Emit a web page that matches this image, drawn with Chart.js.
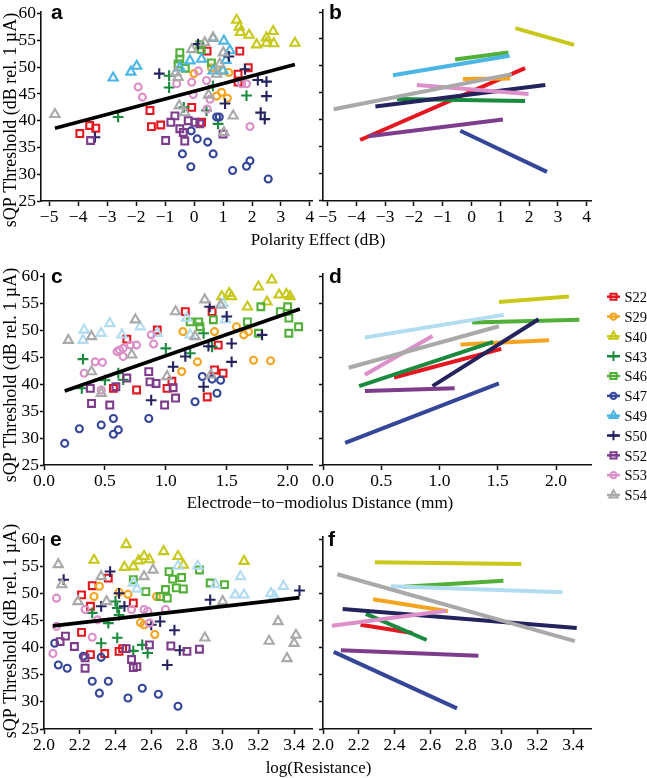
<!DOCTYPE html>
<html>
<head>
<meta charset="utf-8">
<script src="https://cdn.jsdelivr.net/npm/chart.js@4.4.1/dist/chart.umd.min.js"></script>
<style>
html, body { margin: 0; padding: 0; background: #fff; }
#wrap { position: relative; width: 647px; height: 778px; overflow: hidden; }
canvas { position: absolute; left: 0; top: 0; }
</style>
</head>
<body>
<div id="wrap">
  <canvas id="pa" width="647" height="778"></canvas>
  <canvas id="pb" width="647" height="778"></canvas>
  <canvas id="pc" width="647" height="778"></canvas>
  <canvas id="pd" width="647" height="778"></canvas>
  <canvas id="pe" width="647" height="778"></canvas>
  <canvas id="pf" width="647" height="778"></canvas>
</div>
<script>
// ---- data ----
const seriesNames = ['S22', 'S29', 'S40', 'S43', 'S46', 'S47', 'S49', 'S50', 'S52', 'S53', 'S54'];

const thresholdTicks = [25, 30, 35, 40, 45, 50, 55, 60];
const polarityTicks = [-5, -4, -3, -2, -1, 0, 1, 2, 3, 4];
const distanceTicks = [0, 0.5, 1.0, 1.5, 2.0];
const resistanceTicks = [2.0, 2.2, 2.4, 2.6, 2.8, 3.0, 3.2, 3.4];

// panel a: polarity effect vs threshold, one list of [x, y] per subject
const polarityPts = [
  [[-3.94, 37.6], [-3.6, 39.1], [-3.39, 38.6], [-1.52, 41.9], [-1.47, 38.9], [-1.15, 39.2], [-0.08, 42.5], [0.26, 39.7], [0.45, 53.0], [1.58, 53.0], [1.52, 48.7], [1.52, 47.2], [1.87, 49.9]],
  [[0.6, 49.9], [0.98, 49.4], [1.2, 49.0], [0.78, 44.6], [0.95, 45.3], [1.15, 44.2], [0.0, 48.8]],
  [[1.47, 58.8], [1.56, 57.5], [1.6, 56.5], [1.9, 56.0], [2.16, 54.2], [2.5, 55.5], [2.73, 56.7], [2.5, 54.5], [2.75, 54.4], [3.48, 54.5]],
  [[-2.62, 40.7], [-0.86, 48.4], [-0.86, 46.2], [-0.35, 42.5], [0.43, 41.9], [0.83, 39.4], [1.81, 44.7], [0.65, 46.5]],
  [[-0.49, 52.7], [-0.49, 51.5], [-0.55, 50.6], [0.2, 54.2], [0.25, 53.3], [0.6, 50.8], [-0.3, 49.8]],
  [[0.78, 40.7], [0.87, 40.7], [-0.1, 38.1], [0.11, 36.6], [0.47, 36.0], [-0.4, 33.8], [0.66, 33.8], [-0.11, 31.4], [1.33, 30.7], [1.81, 31.5], [1.93, 32.5], [2.56, 29.1]],
  [[-2.79, 48.0], [-2.18, 49.1], [-1.98, 50.2], [-0.49, 49.9], [-0.14, 51.2], [0.26, 51.5], [0.66, 55.4], [1.03, 54.9], [1.24, 53.1], [1.0, 49.3], [0.66, 49.3], [1.1, 51.3]],
  [[-3.42, 36.9], [-1.2, 48.8], [0.14, 54.3], [1.07, 43.2], [1.76, 49.6], [2.2, 47.6], [2.5, 47.3], [2.5, 44.6], [2.3, 41.5], [2.44, 40.3], [1.2, 52.0]],
  [[-3.57, 36.3], [-0.98, 36.3], [-0.66, 40.9], [-0.49, 38.5], [-0.32, 36.2], [-0.37, 37.8], [-0.2, 40.0], [0.03, 39.7], [0.2, 39.4], [1.0, 37.5], [-0.8, 39.7]],
  [[-1.93, 46.3], [-1.78, 44.4], [-0.6, 46.9], [-0.08, 47.2], [0.15, 49.3], [0.43, 47.5], [-0.03, 44.9], [0.55, 44.0], [0.45, 42.2], [1.64, 46.9], [1.81, 46.9], [1.93, 38.9]],
  [[-4.8, 41.2], [-0.51, 42.8], [-0.32, 41.5], [-0.55, 48.1], [-0.63, 49.0], [-0.08, 53.3], [0.37, 54.6], [0.66, 55.5], [1.01, 52.7], [0.89, 50.6], [0.78, 48.7], [0.5, 44.8], [1.35, 40.9], [1.03, 37.8]]
];
const polarityFit = [[-4.8, 38.6], [3.48, 50.5]];
// panel b: per-subject regression lines, [start, end]
const polarityLines = [
  [[-3.87, 36.3], [1.86, 49.6]],
  [[-0.3, 47.6], [1.34, 47.7]],
  [[1.52, 57.0], [3.56, 53.9]],
  [[-2.59, 43.9], [1.86, 43.5]],
  [[-0.57, 51.2], [1.28, 52.5]],
  [[-0.39, 38.0], [2.62, 30.4]],
  [[-2.73, 48.3], [1.32, 51.9]],
  [[-3.34, 42.5], [2.56, 46.5]],
  [[-3.58, 37.0], [1.09, 40.1]],
  [[-1.9, 46.5], [1.98, 44.8]],
  [[-4.79, 42.0], [1.4, 48.5]]
];

// panel c: electrode-to-modiolus distance vs threshold
const distancePts = [
  [[0.68, 48.3], [0.93, 50.0], [0.57, 39.2], [0.76, 38.9], [1.01, 39.2], [1.16, 53.4], [1.38, 53.4], [1.43, 47.2], [1.4, 42.6], [1.47, 42.0], [1.34, 37.6], [1.05, 40.5]],
  [[1.14, 49.7], [1.4, 49.7], [1.58, 50.6], [1.64, 49.1], [1.68, 49.7], [1.13, 42.3], [1.26, 44.1], [1.72, 44.4], [1.86, 44.3]],
  [[1.46, 56.2], [1.52, 56.8], [1.54, 56.2], [1.67, 54.3], [1.76, 58.0], [1.87, 59.3], [1.83, 55.2], [1.93, 56.5], [1.99, 56.6], [2.02, 56.2]],
  [[0.32, 44.6], [0.31, 39.2], [0.5, 40.7], [0.61, 42.0], [1.0, 46.6], [1.31, 49.4], [1.38, 46.9], [1.2, 45.7], [0.65, 40.8]],
  [[1.2, 51.5], [1.27, 51.5], [1.28, 50.6], [1.39, 51.9], [1.67, 51.5], [1.78, 54.3], [1.76, 49.4], [1.94, 53.4], [2.0, 54.3], [2.01, 52.2], [2.01, 49.4], [2.09, 50.6]],
  [[0.17, 29.0], [0.29, 31.7], [0.47, 32.4], [0.57, 33.6], [0.57, 30.7], [0.61, 31.5], [0.86, 33.6], [1.3, 41.4], [1.45, 40.7], [1.42, 38.3], [1.24, 36.7], [1.38, 40.9]],
  [[0.33, 50.0], [0.32, 48.1], [0.47, 49.4], [0.54, 51.2], [0.64, 49.1], [0.79, 50.6], [0.93, 49.4], [1.17, 52.2], [1.47, 54.9], [1.49, 51.9], [1.2, 49.1]],
  [[0.88, 37.0], [1.06, 43.2], [1.16, 45.1], [1.31, 39.5], [1.36, 54.3], [1.5, 52.5], [1.54, 47.5], [1.54, 44.1], [1.79, 49.1], [1.35, 47.0]],
  [[0.38, 39.2], [0.39, 36.4], [0.54, 36.1], [0.59, 39.5], [0.68, 41.1], [0.86, 42.3], [0.87, 40.4], [0.92, 40.1], [0.99, 36.1], [1.08, 37.4], [1.06, 39.3]],
  [[0.62, 46.3], [0.6, 46.0], [0.65, 46.6], [0.71, 47.2], [0.76, 47.2], [0.88, 49.1], [0.9, 47.4], [0.42, 44.1], [0.48, 44.0], [0.33, 42.0], [0.47, 38.9], [0.65, 45.1]],
  [[0.2, 48.1], [0.39, 48.8], [0.75, 51.9], [1.08, 53.4], [0.72, 45.4], [0.39, 42.3], [0.47, 38.3], [1.01, 41.4], [1.32, 55.6], [1.45, 54.6], [1.24, 48.8], [1.37, 41.7]]
];
const distanceFit = [[0.17, 38.7], [2.1, 53.9]];
const distanceLines = [
  [[0.61, 41.2], [1.53, 46.5]],
  [[1.18, 47.3], [1.94, 48.1]],
  [[1.51, 55.2], [2.11, 56.2]],
  [[0.31, 39.6], [1.46, 47.8]],
  [[1.28, 51.4], [2.2, 51.9]],
  [[0.19, 29.1], [1.51, 40.1]],
  [[0.36, 48.6], [1.55, 52.8]],
  [[0.94, 39.6], [1.85, 52.0]],
  [[0.36, 38.7], [1.13, 39.2]],
  [[0.36, 41.7], [0.94, 48.9]],
  [[0.22, 43.0], [1.51, 50.7]]
];

// panel e: log(resistance) vs threshold
const resistancePts = [
  [[2.21, 49.7], [2.27, 51.4], [2.36, 52.8], [2.26, 47.6], [2.5, 48.2], [2.21, 42.8], [2.26, 38.7], [2.34, 38.9], [2.42, 39.3], [2.44, 39.8]],
  [[2.28, 49.4], [2.31, 51.3], [2.54, 44.6], [2.56, 44.2], [2.62, 42.4], [2.63, 49.4], [2.47, 49.8], [2.42, 50.2]],
  [[2.46, 59.0], [2.28, 56.1], [2.45, 54.8], [2.5, 54.9], [2.53, 56.0], [2.56, 56.8], [2.59, 56.2], [2.67, 57.7], [2.75, 56.8], [2.78, 55.2], [3.12, 55.9]],
  [[2.27, 46.4], [2.36, 44.5], [2.4, 48.5], [2.41, 47.3], [2.42, 46.0], [2.32, 40.8], [2.41, 41.8], [2.55, 40.5], [2.58, 39.0], [2.5, 39.4]],
  [[2.5, 52.5], [2.7, 54.0], [2.72, 52.6], [2.77, 52.9], [2.78, 50.8], [2.74, 51.0], [2.68, 50.7], [2.65, 49.4], [2.69, 49.1], [2.57, 50.3], [2.93, 51.9], [3.01, 51.6], [2.87, 54.3]],
  [[2.06, 40.8], [2.08, 36.8], [2.13, 36.2], [2.22, 38.4], [2.32, 38.2], [2.27, 33.8], [2.36, 33.8], [2.31, 31.6], [2.47, 30.7], [2.55, 32.5], [2.64, 31.4], [2.75, 29.2]],
  [[2.5, 51.9], [2.52, 50.8], [2.75, 55.0], [2.86, 55.0], [2.96, 51.6], [3.1, 53.1], [3.07, 49.7], [3.12, 49.7], [3.27, 50.0], [3.34, 51.3], [3.29, 49.5]],
  [[2.11, 52.5], [2.37, 54.0], [2.42, 50.0], [2.45, 47.6], [2.32, 47.6], [2.6, 44.2], [2.65, 44.8], [2.73, 43.2], [2.76, 39.5], [2.69, 36.8], [2.93, 48.8], [3.43, 50.5]],
  [[2.09, 41.1], [2.12, 42.1], [2.17, 40.2], [2.23, 38.1], [2.23, 36.2], [2.49, 37.8], [2.52, 36.5], [2.5, 36.3], [2.59, 40.5], [2.71, 40.3], [2.8, 39.3], [2.87, 39.7], [2.46, 39.8]],
  [[2.07, 49.1], [2.23, 47.0], [2.3, 45.1], [2.05, 38.9], [2.07, 43.9], [2.27, 41.9], [2.56, 47.0], [2.58, 46.7], [2.59, 44.5], [2.68, 47.0], [2.49, 47.0]],
  [[2.08, 55.3], [2.1, 51.6], [2.19, 48.5], [2.32, 53.1], [2.35, 48.5], [2.56, 53.1], [2.61, 54.3], [2.9, 41.8], [3.0, 48.5], [3.26, 41.2], [3.31, 44.8], [3.36, 38.0], [3.41, 42.3], [3.4, 40.8]]
];
const resistanceFit = [[2.05, 44.0], [3.43, 49.2]];
const resistanceLines = [
  [[2.21, 44.2], [2.5, 42.7]],
  [[2.28, 48.9], [2.7, 46.7]],
  [[2.29, 55.7], [3.11, 55.4]],
  [[2.24, 46.2], [2.58, 41.4]],
  [[2.45, 51.2], [3.01, 52.3]],
  [[2.06, 39.2], [2.75, 28.8]],
  [[2.38, 51.3], [3.34, 50.2]],
  [[2.11, 47.1], [3.42, 43.6]],
  [[2.1, 39.5], [2.87, 38.5]],
  [[2.05, 44.0], [2.69, 46.8]],
  [[2.08, 53.5], [3.41, 41.2]]
];

// ---- styling ----
const shapes = ['rect', 'circle', 'triangle', 'cross', 'rect', 'circle', 'triangle', 'cross', 'rect', 'circle', 'triangle'];
const colors = ['#e4161f', '#f4a41f', '#c8c81a', '#1a8a3e', '#52b038', '#354699', '#4bb5e6', '#24235e', '#7e3d8c', '#dc8fc8', '#a9a9a9'];
const paleBlue = '#b2dcf2';
const radius = { rect: 4.8, circle: 3.5, triangle: 5.3, cross: 5.4 };
const serif = '"Liberation Serif", "DejaVu Serif", serif';
const W = 647, H = 778;

function colorFor(i, row) {
  return (i === 6 && row > 0) ? paleBlue : colors[i];
}

function drawMarker(ctx, shape, x, y, r) {
  ctx.beginPath();
  if (shape === 'rect') {
    const s = r * Math.SQRT1_2;
    ctx.rect(x - s, y - s, 2 * s, 2 * s);
  } else if (shape === 'circle') {
    ctx.arc(x, y, r, 0, Math.PI * 2);
  } else if (shape === 'triangle') {
    ctx.moveTo(x, y - r);
    ctx.lineTo(x + r * 0.866, y + r * 0.5);
    ctx.lineTo(x - r * 0.866, y + r * 0.5);
    ctx.closePath();
  } else {
    ctx.moveTo(x, y - r); ctx.lineTo(x, y + r);
    ctx.moveTo(x - r, y); ctx.lineTo(x + r, y);
  }
  ctx.stroke();
}

function drawLegend(ctx) {
  const y0 = 296.7, step = 19.83;
  seriesNames.forEach((name, i) => {
    const y = y0 + i * step;
    ctx.strokeStyle = colors[i];
    ctx.lineWidth = 2.5;
    ctx.beginPath(); ctx.moveTo(607, y); ctx.lineTo(620, y); ctx.stroke();
    ctx.lineWidth = 2;
    drawMarker(ctx, shapes[i], 613.5, y, radius[shapes[i]] * 0.9);
    ctx.fillStyle = '#000';
    ctx.font = '14.5px ' + serif;
    ctx.textAlign = 'left';
    ctx.textBaseline = 'middle';
    ctx.fillText(name, 624.5, y + 1.5);
  });
}

const fmtPolarity = v => v < 0 ? '\u2212' + Math.abs(v) : String(v);
const fmtOne = v => Number(v).toFixed(1);

function toXY(pairs) { return pairs.map(p => ({ x: p[0], y: p[1] })); }

function makePanel(id, p) {
  const yw = p.yLabels ? 34 : 10, xh = 30;
  const yMax = 60.4;
  const top = p.y60 - 0.4 * (p.y25 - p.y60) / 35;
  const datasets = [];
  if (p.points) {
    p.points.forEach((pts, i) => {
      const c = colorFor(i, p.row);
      datasets.push({
        label: seriesNames[i], data: toXY(pts), order: 100 - i, showLine: false,
        pointStyle: shapes[i], pointRadius: radius[shapes[i]],
        pointBorderColor: c, pointBackgroundColor: 'rgba(0,0,0,0)', pointBorderWidth: 2.1
      });
    });
    datasets.push({
      label: 'fit', data: toXY(p.fit), order: 0, showLine: true,
      borderColor: '#000', borderWidth: 3.6, pointRadius: 0
    });
  }
  if (p.lines) {
    p.lines.forEach((seg, i) => {
      datasets.push({
        label: seriesNames[i], data: toXY(seg), order: 100 - i, showLine: true,
        borderColor: colorFor(i, p.row), borderWidth: 4, pointRadius: 0
      });
    });
  }
  const deco = {
    id: 'deco',
    afterDraw(chart) {
      const ctx = chart.ctx;
      ctx.save();
      ctx.fillStyle = '#000';
      ctx.font = 'bold 21px "Liberation Sans", Arial, sans-serif';
      ctx.textAlign = 'left';
      ctx.textBaseline = 'alphabetic';
      ctx.fillText(p.letter, p.letterX, p.y60 + 6.5);
      if (p.xTitle) {
        ctx.font = '17px ' + serif;
        ctx.textAlign = 'center';
        ctx.fillText(p.xTitle, p.xTitleX, p.xTitleY);
        ctx.save();
        ctx.translate(16, p.yTitleY);
        ctx.rotate(-Math.PI / 2);
        ctx.font = '18px ' + serif;
        ctx.fillText('sQP Threshold (dB rel. 1 \u00b5A)', 0, 0);
        ctx.restore();
      }
      if (p.legend) drawLegend(ctx);
      ctx.restore();
    }
  };
  const axisColor = '#111';
  new Chart(document.getElementById(id), {
    type: 'scatter',
    data: { datasets },
    options: {
      responsive: false,
      animation: false,
      devicePixelRatio: 1,
      events: [],
      clip: false,
      layout: { padding: { left: p.left - yw, top: top, right: W - p.right, bottom: H - p.y25 - xh } },
      plugins: { legend: { display: false }, tooltip: { enabled: false } },
      scales: {
        x: {
          type: 'linear', min: p.xMin, max: p.xMax,
          afterFit: s => { s.height = xh; },
          afterBuildTicks: s => { s.ticks = p.xTicks.map(v => ({ value: v })); },
          ticks: { callback: p.fmt, font: { family: serif, size: 17.5 }, color: '#000', padding: 1, maxRotation: 0, autoSkip: false },
          grid: { display: true, drawOnChartArea: false, drawTicks: true, tickLength: 5, tickWidth: 1.5, color: axisColor },
          border: { display: true, color: axisColor, width: 1.6 }
        },
        y: {
          type: 'linear', min: 25, max: yMax,
          afterFit: s => { s.width = yw; },
          afterBuildTicks: s => { s.ticks = thresholdTicks.map(v => ({ value: v })); },
          ticks: { display: p.yLabels, font: { family: serif, size: 17.5 }, color: '#000', padding: 1, autoSkip: false },
          grid: { display: true, drawOnChartArea: false, drawTicks: true, tickLength: 4, tickWidth: 1.5, color: axisColor },
          border: { display: true, color: axisColor, width: 1.6 }
        }
      }
    },
    plugins: [deco]
  });
}

const rows = [{ y60: 12, y25: 201 }, { y60: 276, y25: 465 }, { y60: 539, y25: 729 }];

makePanel('pa', { row: 0, ...rows[0], left: 41, right: 312, xMin: -5.28, xMax: 4.07, xTicks: polarityTicks, fmt: fmtPolarity,
  yLabels: true, points: polarityPts, fit: polarityFit, letter: 'a', letterX: 51,
  xTitle: 'Polarity Effect (dB)', xTitleX: 318, xTitleY: 245, yTitleY: 120 });
makePanel('pb', { row: 0, ...rows[0], left: 323, right: 591, xMin: -5.16, xMax: 4.15, xTicks: polarityTicks, fmt: fmtPolarity,
  yLabels: false, lines: polarityLines, letter: 'b', letterX: 329 });

makePanel('pc', { row: 1, ...rows[1], left: 44, right: 312, xMin: 0, xMax: 2.2, xTicks: distanceTicks, fmt: fmtOne,
  yLabels: true, points: distancePts, fit: distanceFit, letter: 'c', letterX: 51,
  xTitle: 'Electrode\u2212to\u2212modiolus Distance (mm)', xTitleX: 320, xTitleY: 508, yTitleY: 375 });
makePanel('pd', { row: 1, ...rows[1], left: 323, right: 591, xMin: 0, xMax: 2.3, xTicks: distanceTicks, fmt: fmtOne,
  yLabels: false, lines: distanceLines, letter: 'd', letterX: 329, legend: true });

makePanel('pe', { row: 2, ...rows[2], left: 44, right: 312, xMin: 2.0, xMax: 3.5, xTicks: resistanceTicks, fmt: fmtOne,
  yLabels: true, points: resistancePts, fit: resistanceFit, letter: 'e', letterX: 50,
  xTitle: 'log(Resistance)', xTitleX: 318.5, xTitleY: 773, yTitleY: 631 });
makePanel('pf', { row: 2, ...rows[2], left: 323, right: 591, xMin: 2.0, xMax: 3.5, xTicks: resistanceTicks, fmt: fmtOne,
  yLabels: false, lines: resistanceLines, letter: 'f', letterX: 328 });
</script>
</body>
</html>
